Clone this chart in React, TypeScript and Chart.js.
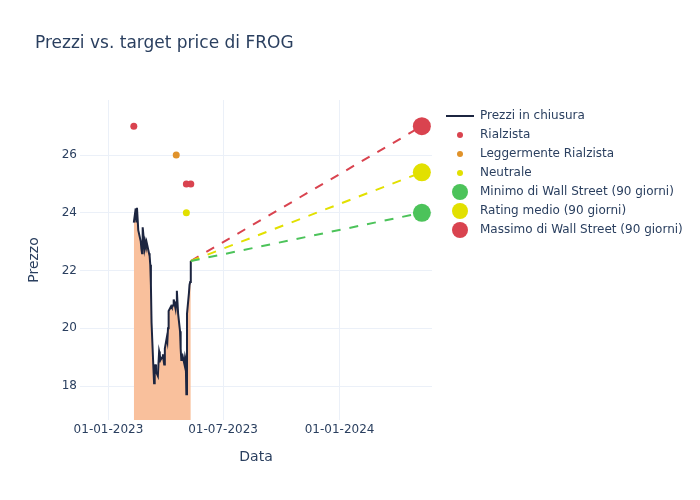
import React, { useEffect, useRef } from "react";
import { Chart, registerables } from "chart.js";

Chart.register(...registerables);

// ---------- DATA ----------
const closeDates = [
  "2023-02-10", "2023-02-13", "2023-02-14", "2023-02-15", "2023-02-16", "2023-02-17",
  "2023-02-21", "2023-02-22", "2023-02-23", "2023-02-24", "2023-02-27", "2023-02-28",
  "2023-03-01", "2023-03-02", "2023-03-03", "2023-03-06", "2023-03-07", "2023-03-08",
  "2023-03-09", "2023-03-10", "2023-03-13", "2023-03-14", "2023-03-15", "2023-03-16",
  "2023-03-17", "2023-03-20", "2023-03-21", "2023-03-22", "2023-03-23", "2023-03-24",
  "2023-03-27", "2023-03-28", "2023-03-29", "2023-03-30", "2023-03-31", "2023-04-03",
  "2023-04-04", "2023-04-05", "2023-04-06", "2023-04-10", "2023-04-11", "2023-04-12",
  "2023-04-13", "2023-04-14", "2023-04-17", "2023-04-18", "2023-04-19", "2023-04-20",
  "2023-04-21", "2023-04-24", "2023-04-25", "2023-04-26", "2023-04-27", "2023-04-28",
  "2023-05-01", "2023-05-02", "2023-05-03", "2023-05-04", "2023-05-05", "2023-05-08",
  "2023-05-09", "2023-05-10", "2023-05-11",
];
const closePrices = [
  23.66, 24.15, 23.7, 24.17, 23.8, 23.4,
  23.0, 22.75, 22.6, 23.5, 22.8, 23.0,
  22.9, 23.0, 22.9, 22.6, 22.5, 22.2,
  21.5, 20.2, 18.6, 18.1, 18.4, 18.75,
  18.5, 18.35, 18.8, 19.2, 19.1, 18.9,
  19.0, 19.1, 18.9, 18.75, 19.3, 19.67,
  19.55, 20.0, 20.6, 20.77, 20.73, 20.75,
  20.8, 21.0, 20.67, 20.9, 21.3, 20.9,
  20.5, 19.9, 19.3, 18.9, 19.0, 19.05,
  18.75, 19.0, 18.9, 17.72, 20.5, 21.2,
  21.5, 21.6, 22.33,
];

const rialzistaDates = ["2023-02-10", "2023-05-04", "2023-05-11"];
const rialzistaValues = [27, 25, 25];
const leggermenteDates = ["2023-04-18"];
const leggermenteValues = [26];
const neutraleDates = ["2023-05-04"];
const neutraleValues = [24];

const targetDate = "2024-05-10";
const targetLow = 24.0;
const targetAvg = 25.4;
const targetHigh = 27.0;

const xTickDates = ["2023-01-01", "2023-07-01", "2024-01-01"];
const xTickLabels = ["01-01-2023", "01-07-2023", "01-01-2024"];
const yTickValues = [18, 20, 22, 24, 26];

const xMinDate = "2022-11-17";
const xMaxDate = "2024-05-26";
const yMin = 16.825;
const yMax = 27.905;

// ---------- STYLE ----------
const FONT = "'DejaVu Sans', sans-serif";
const TEXT = "#2a3f5f";
const GRID = "#ebf0f8";
const RED = "#d9434f";
const ORANGE = "#e0922a";
const YELLOW = "#e2e000";
const GREEN = "#4cc35a";
const LINE = "#1c2540";
const FILL = "#f9c09c";

const t = (d: string) => Date.parse(d);

const titlePlugin = {
  id: "customTitle",
  afterDraw(chart: any) {
    const ctx = chart.ctx;
    ctx.save();
    ctx.font = `17px ${FONT}`;
    ctx.fillStyle = TEXT;
    ctx.textBaseline = "middle";
    ctx.textAlign = "left";
    ctx.fillText("Prezzi vs. target price di FROG", 35, 44);
    ctx.restore();
  },
};

const legendPlugin = {
  id: "customLegend",
  afterDraw(chart: any) {
    const ctx = chart.ctx;
    const items = chart.data.datasets
      .filter((d: any) => d.legendKind)
      .sort((a: any, b: any) => a.legendOrder - b.legendOrder);
    ctx.save();
    ctx.font = `12px ${FONT}`;
    ctx.textBaseline = "middle";
    ctx.textAlign = "left";
    items.forEach((d: any, i: number) => {
      const y = 116 + i * 19;
      if (d.legendKind === "line") {
        ctx.strokeStyle = d.borderColor;
        ctx.lineWidth = 2;
        ctx.beginPath();
        ctx.moveTo(446, y);
        ctx.lineTo(474, y);
        ctx.stroke();
      } else {
        ctx.fillStyle = d.legendColor;
        ctx.beginPath();
        ctx.arc(460, y, d.legendKind === "big" ? 8 : 3, 0, Math.PI * 2);
        ctx.fill();
      }
      ctx.fillStyle = TEXT;
      ctx.fillText(d.label, 480, y);
    });
    ctx.restore();
  },
};

export default function App() {
  const ref = useRef<HTMLCanvasElement | null>(null);

  useEffect(() => {
    if (!ref.current) return;
    const lastX = t(closeDates[closeDates.length - 1]);
    const lastY = closePrices[closePrices.length - 1];

    const targetDs = (label: string, value: number, color: string, order: number) => ({
      label,
      data: [
        { x: lastX, y: lastY },
        { x: t(targetDate), y: value },
      ],
      borderColor: color,
      borderWidth: 2,
      borderDash: [9, 9],
      pointRadius: [0, 9],
      pointHoverRadius: [0, 9],
      pointBackgroundColor: color,
      pointBorderWidth: 0,
      fill: false,
      order: 1,
      legendKind: "big",
      legendColor: color,
      legendOrder: order,
    });

    const dotDs = (label: string, dates: string[], vals: number[], color: string, order: number) => ({
      label,
      data: dates.map((d, i) => ({ x: t(d), y: vals[i] })),
      showLine: false,
      pointRadius: 3.5,
      pointBackgroundColor: color,
      pointBorderWidth: 0,
      borderColor: color,
      order: 5,
      legendKind: "dot",
      legendColor: color,
      legendOrder: order,
    });

    const chart = new Chart(ref.current, {
      type: "line",
      data: {
        datasets: [
          {
            label: "Prezzi in chiusura",
            data: closeDates.map((d, i) => ({ x: t(d), y: closePrices[i] })),
            borderColor: LINE,
            borderWidth: 2,
            backgroundColor: FILL,
            fill: "origin",
            pointRadius: 0,
            tension: 0,
            order: 10,
            legendKind: "line",
            legendOrder: 0,
          } as any,
          dotDs("Rialzista", rialzistaDates, rialzistaValues, RED, 1) as any,
          dotDs("Leggermente Rialzista", leggermenteDates, leggermenteValues, ORANGE, 2) as any,
          dotDs("Neutrale", neutraleDates, neutraleValues, YELLOW, 3) as any,
          targetDs("Minimo di Wall Street (90 giorni)", targetLow, GREEN, 4) as any,
          targetDs("Rating medio (90 giorni)", targetAvg, YELLOW, 5) as any,
          targetDs("Massimo di Wall Street (90 giorni)", targetHigh, RED, 6) as any,
        ],
      },
      options: {
        animation: false,
        responsive: false,
        maintainAspectRatio: false,
        layout: { padding: { left: 0, top: 100, right: 268, bottom: 0 } },
        plugins: {
          legend: { display: false },
          title: { display: false },
          tooltip: { enabled: false },
        },
        scales: {
          x: {
            type: "linear",
            min: t(xMinDate),
            max: t(xMaxDate),
            afterFit: (s: any) => {
              s.height = 80;
            },
            afterBuildTicks: (s: any) => {
              s.ticks = xTickDates.map((d) => ({ value: t(d) }));
            },
            grid: { color: GRID, lineWidth: 1, drawTicks: false },
            border: { display: false },
            ticks: {
              autoSkip: false,
              maxRotation: 0,
              padding: 3,
              color: TEXT,
              font: { family: FONT, size: 12 },
              callback: (_v: any, i: number) => xTickLabels[i],
            },
            title: {
              display: true,
              text: "Data",
              color: TEXT,
              font: { family: FONT, size: 14 },
              padding: { top: 0, bottom: 34 },
            },
          },
          y: {
            type: "linear",
            min: yMin,
            max: yMax,
            afterFit: (s: any) => {
              s.width = 80;
            },
            afterBuildTicks: (s: any) => {
              s.ticks = yTickValues.map((v) => ({ value: v }));
            },
            grid: { color: GRID, lineWidth: 1, drawTicks: false },
            border: { display: false },
            ticks: {
              padding: 3,
              color: TEXT,
              font: { family: FONT, size: 12 },
              callback: (v: any) => String(v),
            },
            title: {
              display: true,
              text: "Prezzo",
              color: TEXT,
              font: { family: FONT, size: 14 },
              padding: { top: 26, bottom: 0 },
            },
          },
        },
      } as any,
      plugins: [titlePlugin, legendPlugin],
    });
    return () => chart.destroy();
  }, []);

  return (
    <div style={{ position: "absolute", left: 0, top: 0, width: 700, height: 500, background: "#fff" }}>
      <canvas ref={ref} width={700} height={500} style={{ width: 700, height: 500 }} />
    </div>
  );
}
